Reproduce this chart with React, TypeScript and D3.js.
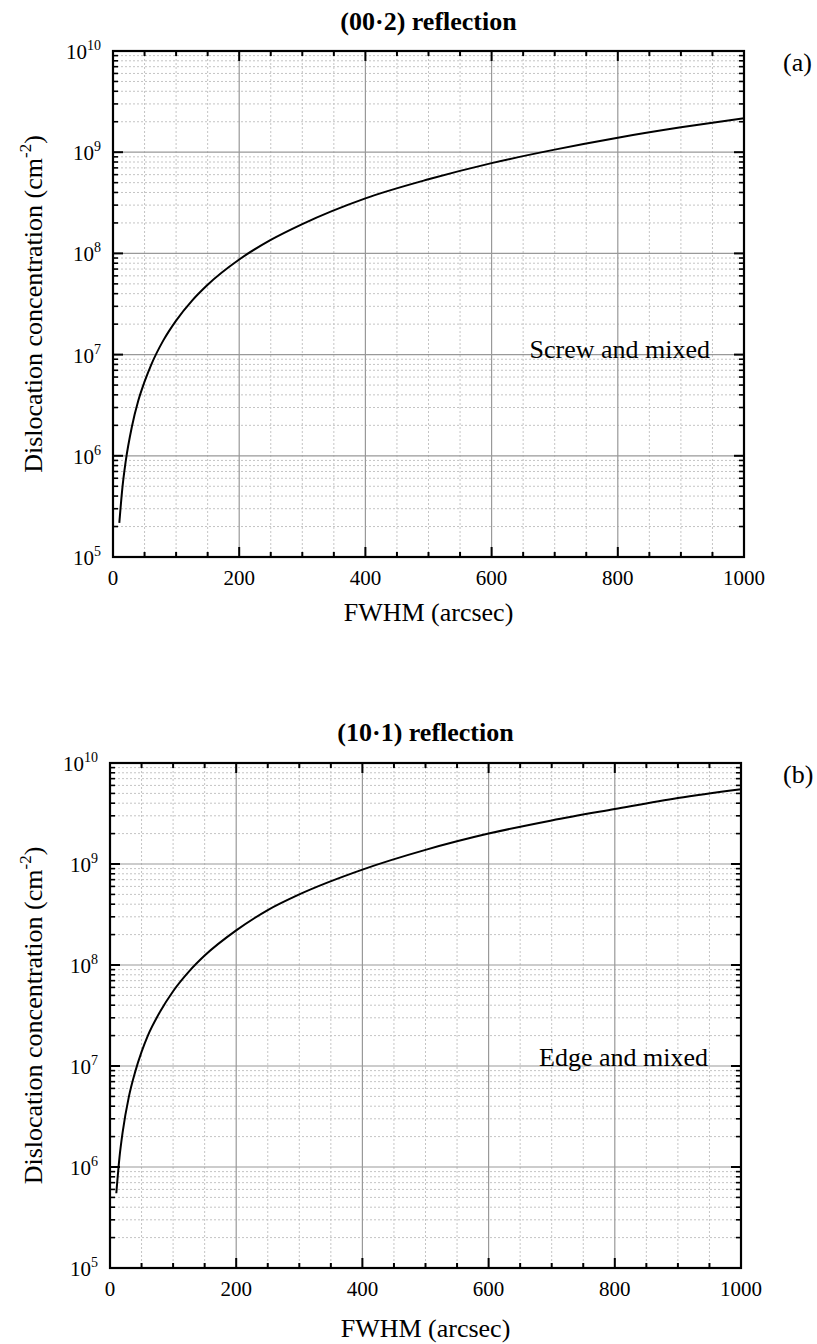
import React from "react";
import * as d3 from "d3";

const fwhm = [10, 15, 20, 30, 40, 50, 60, 80, 100, 125, 150, 200, 250, 300, 400, 500, 600, 700, 800, 900, 1000];
const densityScrew = [2.17e5, 4.9e5, 8.7e5, 1.95e6, 3.5e6, 5.4e6, 7.8e6, 1.39e7, 2.17e7, 3.4e7, 4.9e7, 8.7e7, 1.36e8, 1.95e8, 3.5e8, 5.4e8, 7.8e8, 1.06e9, 1.39e9, 1.76e9, 2.17e9];
const densityEdge = [5.5e5, 1.24e6, 2.2e6, 5.0e6, 8.8e6, 1.38e7, 2.0e7, 3.5e7, 5.5e7, 8.6e7, 1.24e8, 2.2e8, 3.5e8, 5.0e8, 8.8e8, 1.38e9, 2.0e9, 2.7e9, 3.5e9, 4.5e9, 5.5e9];
const xMajorTicks = [0, 200, 400, 600, 800, 1000];
const xMinorTicks = [50, 100, 150, 250, 300, 350, 450, 500, 550, 650, 700, 750, 850, 900, 950];
const yExponents = [5, 6, 7, 8, 9, 10];
const titles = ["(00·2) reflection", "(10·1) reflection"];
const panelLabels = ["(a)", "(b)"];
const annotations = ["Screw and mixed", "Edge and mixed"];

const FONT = "'Liberation Serif', 'Times New Roman', serif";

type Layout = {
  left: number; right: number; top: number; bottom: number;
  titleY: number; tagY: number; noteX: number; noteY: number; xTitleY: number;
};

function Panel({ layout, data, title, tag, note }: { layout: Layout; data: number[]; title: string; tag: string; note: string }) {
  const { left, right, top, bottom } = layout;
  const x = d3.scaleLinear().domain([0, 1000]).range([left, right]);
  const y = d3.scaleLog().domain([1e5, 1e10]).range([bottom, top]);
  const minorY: number[] = [];
  for (let e = 5; e < 10; e++) for (let k = 2; k <= 9; k++) minorY.push(k * Math.pow(10, e));
  const line = d3
    .line<number>()
    .x((_, i) => x(fwhm[i]))
    .y((d) => y(d))
    .curve(d3.curveMonotoneX);
  const cx = (left + right) / 2;
  const cy = (top + bottom) / 2;
  return (
    <g>
      {xMinorTicks.map((v) => (
        <line key={"gx" + v} x1={x(v)} x2={x(v)} y1={top} y2={bottom} stroke="#c4c4c4" strokeWidth={1} strokeDasharray="2,2" />
      ))}
      {minorY.map((v, i) => (
        <line key={"gy" + i} x1={left} x2={right} y1={y(v)} y2={y(v)} stroke="#c4c4c4" strokeWidth={1} strokeDasharray="2,2" />
      ))}
      {xMajorTicks.slice(1, -1).map((v) => (
        <line key={"Gx" + v} x1={x(v)} x2={x(v)} y1={top} y2={bottom} stroke="#999" strokeWidth={1.2} />
      ))}
      {yExponents.slice(1, -1).map((e) => (
        <line key={"Gy" + e} x1={left} x2={right} y1={y(Math.pow(10, e))} y2={y(Math.pow(10, e))} stroke="#999" strokeWidth={1.2} />
      ))}
      {xMajorTicks.map((v) => (
        <g key={"tx" + v}>
          <line x1={x(v)} x2={x(v)} y1={bottom} y2={bottom - 10} stroke="#000" strokeWidth={2} />
          <line x1={x(v)} x2={x(v)} y1={top} y2={top + 10} stroke="#000" strokeWidth={2} />
        </g>
      ))}
      {xMinorTicks.map((v) => (
        <g key={"tmx" + v}>
          <line x1={x(v)} x2={x(v)} y1={bottom} y2={bottom - 5} stroke="#000" strokeWidth={2} />
          <line x1={x(v)} x2={x(v)} y1={top} y2={top + 5} stroke="#000" strokeWidth={2} />
        </g>
      ))}
      {yExponents.map((e) => (
        <g key={"ty" + e}>
          <line x1={left} x2={left + 10} y1={y(Math.pow(10, e))} y2={y(Math.pow(10, e))} stroke="#000" strokeWidth={2} />
          <line x1={right} x2={right - 10} y1={y(Math.pow(10, e))} y2={y(Math.pow(10, e))} stroke="#000" strokeWidth={2} />
        </g>
      ))}
      {minorY.map((v, i) => (
        <g key={"tmy" + i}>
          <line x1={left} x2={left + 5} y1={y(v)} y2={y(v)} stroke="#000" strokeWidth={1.6} />
          <line x1={right} x2={right - 5} y1={y(v)} y2={y(v)} stroke="#000" strokeWidth={1.6} />
        </g>
      ))}
      <path d={line(data) || ""} fill="none" stroke="#000" strokeWidth={2} />
      <rect x={left} y={top} width={right - left} height={bottom - top} fill="none" stroke="#000" strokeWidth={2.2} />
      {xMajorTicks.map((v) => (
        <text key={"lx" + v} x={x(v)} y={bottom + 28} textAnchor="middle" fontSize={21} fontFamily={FONT}>
          {v}
        </text>
      ))}
      {yExponents.map((e) => (
        <text key={"ly" + e} x={left - 12} y={y(Math.pow(10, e)) + 8} textAnchor="end" fontSize={21} fontFamily={FONT}>
          10
          <tspan fontSize={14} dy={-9}>
            {e}
          </tspan>
        </text>
      ))}
      <text x={cx} y={layout.xTitleY} textAnchor="middle" fontSize={26} fontFamily={FONT}>
        FWHM (arcsec)
      </text>
      <text transform={`translate(42,${cy}) rotate(-90)`} textAnchor="middle" fontSize={26} fontFamily={FONT}>
        Dislocation concentration (cm
        <tspan fontSize={17} dy={-11}>
          -2
        </tspan>
        <tspan dy={11}>)</tspan>
      </text>
      <text x={cx} y={layout.titleY} textAnchor="middle" fontSize={26} fontWeight="bold" fontFamily={FONT}>
        {title}
      </text>
      <text x={783} y={layout.tagY} fontSize={26} fontFamily={FONT}>
        {tag}
      </text>
      <text x={layout.noteX} y={layout.noteY} textAnchor="end" fontSize={26} fontFamily={FONT}>
        {note}
      </text>
    </g>
  );
}

const layouts: Layout[] = [
  { left: 113, right: 744, top: 51, bottom: 557, titleY: 30, tagY: 71, noteX: 710, noteY: 358, xTitleY: 621 },
  { left: 110, right: 741, top: 763, bottom: 1268, titleY: 741, tagY: 783, noteX: 708, noteY: 1066, xTitleY: 1337 },
];

export default function App() {
  const series = [densityScrew, densityEdge];
  return (
    <svg width={817} height={1344} style={{ position: "absolute", left: 0, top: 0, background: "#fff" }}>
      <rect width={817} height={1344} fill="#fff" />
      {layouts.map((l, i) => (
        <Panel key={i} layout={l} data={series[i]} title={titles[i]} tag={panelLabels[i]} note={annotations[i]} />
      ))}
    </svg>
  );
}
